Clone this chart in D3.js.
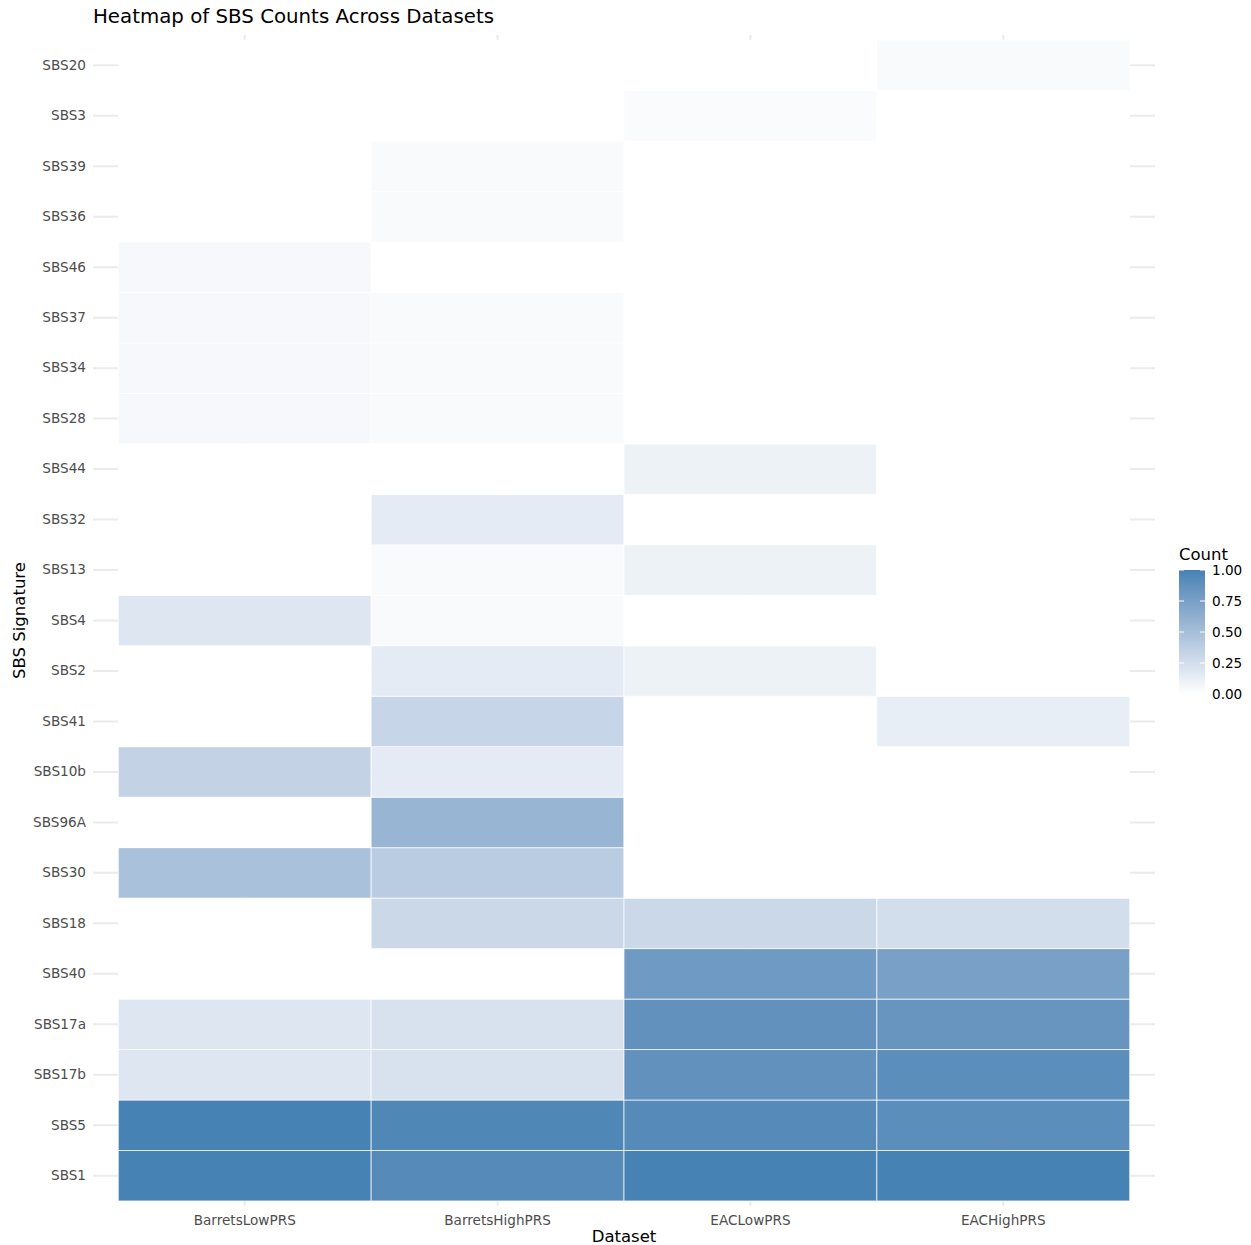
<!DOCTYPE html>
<html>
<head>
<meta charset="utf-8">
<script src="https://cdn.jsdelivr.net/npm/d3@7"></script>
<style>
  body { margin: 0; background: #fff; }
  svg { font-family: "DejaVu Sans", sans-serif; }
</style>
</head>
<body>
<div id="chart"></div>
<script>
// datasets (x) and signatures (y, bottom to top)
const datasets = ['BarretsLowPRS', 'BarretsHighPRS', 'EACLowPRS', 'EACHighPRS'];
const signatures = ['SBS1', 'SBS5', 'SBS17b', 'SBS17a', 'SBS40', 'SBS18', 'SBS30', 'SBS96A',
  'SBS10b', 'SBS41', 'SBS2', 'SBS4', 'SBS13', 'SBS32', 'SBS44', 'SBS28', 'SBS34', 'SBS37',
  'SBS46', 'SBS36', 'SBS39', 'SBS3', 'SBS20'];

// normalised counts per dataset (null = missing, drawn white)
const barretsLow = [1.00, 1.00, 0.19, 0.19, null, null, 0.48, null,
  0.34, null, null, 0.19, null, null, null, 0.05, 0.05, 0.05,
  0.05, null, null, null, null];
const barretsHigh = [0.93, 0.96, 0.22, 0.22, null, 0.30, 0.39, 0.58,
  0.15, 0.32, 0.15, 0.04, 0.04, 0.15, null, 0.04, 0.04, 0.04,
  null, 0.04, 0.04, null, null];
const eacLow = [1.00, 0.93, 0.87, 0.87, 0.80, 0.30, null, null,
  null, null, 0.10, null, 0.10, null, 0.10, null, null, null,
  null, null, null, 0.03, null];
const eacHigh = [1.00, 0.90, 0.90, 0.84, 0.75, 0.25, null, null,
  null, 0.13, null, null, null, null, null, null, null, null,
  null, null, null, null, 0.04];

const legendTicks = [0, 0.25, 0.5, 0.75, 1];

const series = [barretsLow, barretsHigh, eacLow, eacHigh];
const cells = [];
datasets.forEach((ds, i) => {
  signatures.forEach((sig, j) => {
    cells.push({ dataset: ds, signature: sig, count: series[i][j] });
  });
});

const width = 1251, height = 1245;
const panel = { left: 93, right: 1155, top: 35, bottom: 1206 };

const svg = d3.select('#chart').append('svg')
  .attr('width', width)
  .attr('height', height);

const x = d3.scaleBand().domain(datasets)
  .range([panel.left, panel.right]).paddingInner(0).paddingOuter(0.1);
const y = d3.scaleBand().domain(signatures)
  .range([panel.bottom, panel.top]).paddingInner(0).paddingOuter(0.1);
const color = d3.scaleLinear().domain([0, 1])
  .range(['#ffffff', 'steelblue']).interpolate(d3.interpolateLab);

// grid lines
const grid = svg.append('g').attr('class', 'grid');
grid.selectAll('line.h')
  .data(signatures)
  .join('line')
  .attr('class', 'h')
  .attr('x1', panel.left).attr('x2', panel.right)
  .attr('y1', d => y(d) + y.bandwidth() / 2)
  .attr('y2', d => y(d) + y.bandwidth() / 2)
  .attr('stroke', '#EBEBEB').attr('stroke-width', 2);
grid.selectAll('line.v')
  .data(datasets)
  .join('line')
  .attr('class', 'v')
  .attr('y1', panel.top).attr('y2', panel.bottom)
  .attr('x1', d => x(d) + x.bandwidth() / 2)
  .attr('x2', d => x(d) + x.bandwidth() / 2)
  .attr('stroke', '#EBEBEB').attr('stroke-width', 2);

// tiles
svg.append('g').attr('class', 'tiles')
  .selectAll('rect')
  .data(cells)
  .join('rect')
  .attr('x', d => x(d.dataset))
  .attr('y', d => y(d.signature))
  .attr('width', x.bandwidth())
  .attr('height', y.bandwidth())
  .attr('fill', d => d.count === null ? '#ffffff' : color(d.count))
  .attr('stroke', 'rgba(255,255,255,0.7)')
  .attr('stroke-width', 1);

// axes
const yAxis = svg.append('g')
  .attr('transform', `translate(${panel.left - 7},0)`)
  .call(d3.axisLeft(y).tickSize(0).tickPadding(0));
yAxis.select('.domain').remove();
yAxis.selectAll('text')
  .attr('font-size', 13.6).attr('fill', '#4D4D4D')
  .attr('font-family', '"DejaVu Sans", sans-serif');

const xAxis = svg.append('g')
  .attr('transform', `translate(0,${panel.bottom + 9})`)
  .call(d3.axisBottom(x).tickSize(0).tickPadding(0));
xAxis.select('.domain').remove();
xAxis.selectAll('text')
  .attr('font-size', 13.6).attr('fill', '#4D4D4D')
  .attr('font-family', '"DejaVu Sans", sans-serif');

// titles
svg.append('text')
  .attr('x', panel.left).attr('y', 23)
  .attr('font-size', 19.8).attr('fill', '#000')
  .text('Heatmap of SBS Counts Across Datasets');
svg.append('text')
  .attr('x', (panel.left + panel.right) / 2).attr('y', 1242)
  .attr('text-anchor', 'middle')
  .attr('font-size', 16.5).attr('fill', '#000')
  .text('Dataset');
svg.append('text')
  .attr('transform', `translate(25,${(panel.top + panel.bottom) / 2}) rotate(-90)`)
  .attr('text-anchor', 'middle')
  .attr('font-size', 16.5).attr('fill', '#000')
  .text('SBS Signature');

// legend
const lg = { x: 1179, w: 26, top: 570, bottom: 694 };
const ly = d3.scaleLinear().domain([0, 1]).range([lg.bottom, lg.top]);
const grad = svg.append('defs').append('linearGradient')
  .attr('id', 'countGrad')
  .attr('x1', 0).attr('y1', 1).attr('x2', 0).attr('y2', 0);
grad.selectAll('stop')
  .data(d3.range(0, 1.001, 0.05))
  .join('stop')
  .attr('offset', d => d)
  .attr('stop-color', d => color(d));

const legend = svg.append('g').attr('class', 'legend');
legend.append('text')
  .attr('x', lg.x).attr('y', 560)
  .attr('font-size', 16.5).attr('fill', '#000')
  .text('Count');
legend.append('rect')
  .attr('x', lg.x).attr('y', lg.top)
  .attr('width', lg.w).attr('height', lg.bottom - lg.top)
  .attr('fill', 'url(#countGrad)');
legend.selectAll('line.tl')
  .data(legendTicks)
  .join('line')
  .attr('class', 'tl')
  .attr('x1', lg.x).attr('x2', lg.x + 5)
  .attr('y1', d => ly(d)).attr('y2', d => ly(d))
  .attr('stroke', '#fff').attr('stroke-width', 1);
legend.selectAll('line.tr')
  .data(legendTicks)
  .join('line')
  .attr('class', 'tr')
  .attr('x1', lg.x + lg.w - 5).attr('x2', lg.x + lg.w)
  .attr('y1', d => ly(d)).attr('y2', d => ly(d))
  .attr('stroke', '#fff').attr('stroke-width', 1);
legend.selectAll('text.lab')
  .data(legendTicks)
  .join('text')
  .attr('class', 'lab')
  .attr('x', lg.x + lg.w + 7)
  .attr('y', d => ly(d))
  .attr('dy', '0.35em')
  .attr('font-size', 13.6).attr('fill', '#000')
  .text(d => d3.format('.2f')(d));
</script>
</body>
</html>
